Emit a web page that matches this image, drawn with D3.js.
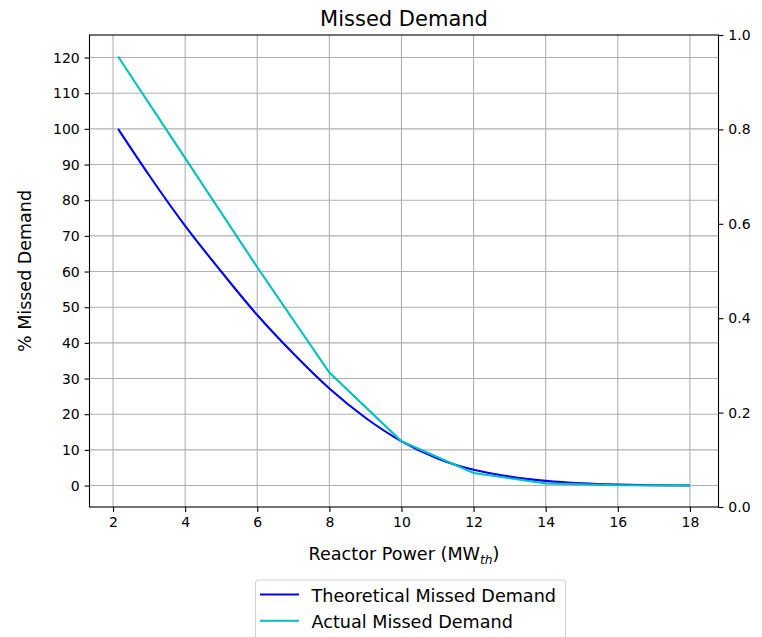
<!DOCTYPE html>
<html>
<head>
<meta charset="utf-8">
<script src="https://cdn.jsdelivr.net/npm/d3@7"></script>
<style>
  body { margin: 0; background: #fff; }
  svg { display: block; font-family: "DejaVu Sans", sans-serif; }
</style>
</head>
<body>
<svg id="chart" width="762" height="637"></svg>
<script>
// ---- data ----
const theoX = [2.14, 3, 4, 5, 6, 7, 8, 9, 10, 11, 12, 13, 14, 15, 16, 17, 18];
const theoY = [100, 87, 72.8, 60, 47.8, 37, 27.2, 19, 12.4, 7.6, 4.4, 2.5, 1.3, 0.6, 0.25, 0.08, 0.02];
const actX = [2.14, 4, 6, 8, 10, 12, 14, 16, 18];
const actY = [120.3, 91.8, 61.2, 31.7, 12.4, 3.5, 0.6, 0.1, 0.0];
const xTicks = [2, 4, 6, 8, 10, 12, 14, 16, 18];
const yTicks = [0, 10, 20, 30, 40, 50, 60, 70, 80, 90, 100, 110, 120];
const y2Ticks = [0.0, 0.2, 0.4, 0.6, 0.8, 1.0];
const seriesNames = ["Theoretical Missed Demand", "Actual Missed Demand"];
const seriesColors = ["#0000ff", "#00bfbf"];

// ---- layout ----
const L = 89.5, R = 718.5, T = 35, B = 507;
const svg = d3.select("#chart");
const x = d3.scaleLinear().domain([1.347, 18.793]).range([L, R]);
const y = d3.scaleLinear().domain([-6.015, 126.315]).range([B, T]);
const y2 = d3.scaleLinear().domain([0, 1]).range([B, T]);

// grid
const grid = svg.append("g");
grid.selectAll(".gx").data(xTicks).enter().append("line")
  .attr("x1", d => x(d)).attr("x2", d => x(d)).attr("y1", T).attr("y2", B)
  .attr("stroke", "#b0b0b0").attr("stroke-width", 1.1);
grid.selectAll(".gy").data(yTicks).enter().append("line")
  .attr("y1", d => y(d)).attr("y2", d => y(d)).attr("x1", L).attr("x2", R)
  .attr("stroke", "#b0b0b0").attr("stroke-width", 1.1);

// lines
const theo = theoX.map((v, i) => [v, theoY[i]]);
const act = actX.map((v, i) => [v, actY[i]]);
const lineSmooth = d3.line().x(d => x(d[0])).y(d => y(d[1])).curve(d3.curveMonotoneX);
const lineLin = d3.line().x(d => x(d[0])).y(d => y(d[1]));
svg.append("path").attr("d", lineSmooth(theo)).attr("fill", "none")
  .attr("stroke", seriesColors[0]).attr("stroke-width", 2.1);
svg.append("path").attr("d", lineLin(act)).attr("fill", "none")
  .attr("stroke", seriesColors[1]).attr("stroke-width", 2.1);

// axes
function styleAxis(g) {
  g.select(".domain").remove();
  g.selectAll(".tick line").attr("stroke", "#000").attr("stroke-width", 1.1);
  g.selectAll(".tick text").attr("fill", "#000").style("font-size", "14px")
   .style("font-family", "'DejaVu Sans', sans-serif");
}
svg.append("g").attr("transform", `translate(0,${B})`)
  .call(d3.axisBottom(x).tickValues(xTicks).tickSize(4.9).tickPadding(4.9).tickFormat(d3.format("d")))
  .call(styleAxis);
svg.append("g").attr("transform", `translate(${L},0)`)
  .call(d3.axisLeft(y).tickValues(yTicks).tickSize(4.9).tickPadding(4.9).tickFormat(d3.format("d")))
  .call(styleAxis);
svg.append("g").attr("transform", `translate(${R},0)`)
  .call(d3.axisRight(y2).tickValues(y2Ticks).tickSize(4.9).tickPadding(4.9).tickFormat(d3.format(".1f")))
  .call(styleAxis);

// frame
svg.append("rect").attr("x", L).attr("y", T).attr("width", R - L).attr("height", B - T)
  .attr("fill", "none").attr("stroke", "#000").attr("stroke-width", 1.1);

// title & labels
svg.append("text").attr("x", (L + R) / 2).attr("y", 26).attr("text-anchor", "middle")
  .style("font-size", "21px").text("Missed Demand");
const xl = svg.append("text").attr("x", (L + R) / 2).attr("y", 560).attr("text-anchor", "middle")
  .style("font-size", "17.6px");
xl.append("tspan").text("Reactor Power (MW");
xl.append("tspan").attr("font-style", "italic").attr("dy", 4).style("font-size", "12.3px").text("th");
xl.append("tspan").attr("dy", -4).text(")");
svg.append("text").attr("transform", `translate(31,${(T + B) / 2}) rotate(-90)`)
  .attr("text-anchor", "middle").style("font-size", "17.5px").text("% Missed Demand");

// legend
const lg = svg.append("g");
lg.append("rect").attr("x", 255.5).attr("y", 580).attr("width", 310).attr("height", 70)
  .attr("rx", 3).attr("fill", "#fff").attr("fill-opacity", 0.8)
  .attr("stroke", "#d0d0d0").attr("stroke-width", 1);
seriesNames.forEach((name, i) => {
  const yy = 594.5 + i * 26.3;
  lg.append("line").attr("x1", 260).attr("x2", 299).attr("y1", yy).attr("y2", yy)
    .attr("stroke", seriesColors[i]).attr("stroke-width", 2.1);
  lg.append("text").attr("x", 311.5).attr("y", yy + 7).style("font-size", "17.6px")
    .attr("fill", "#000").text(name);
});
</script>
</body>
</html>
